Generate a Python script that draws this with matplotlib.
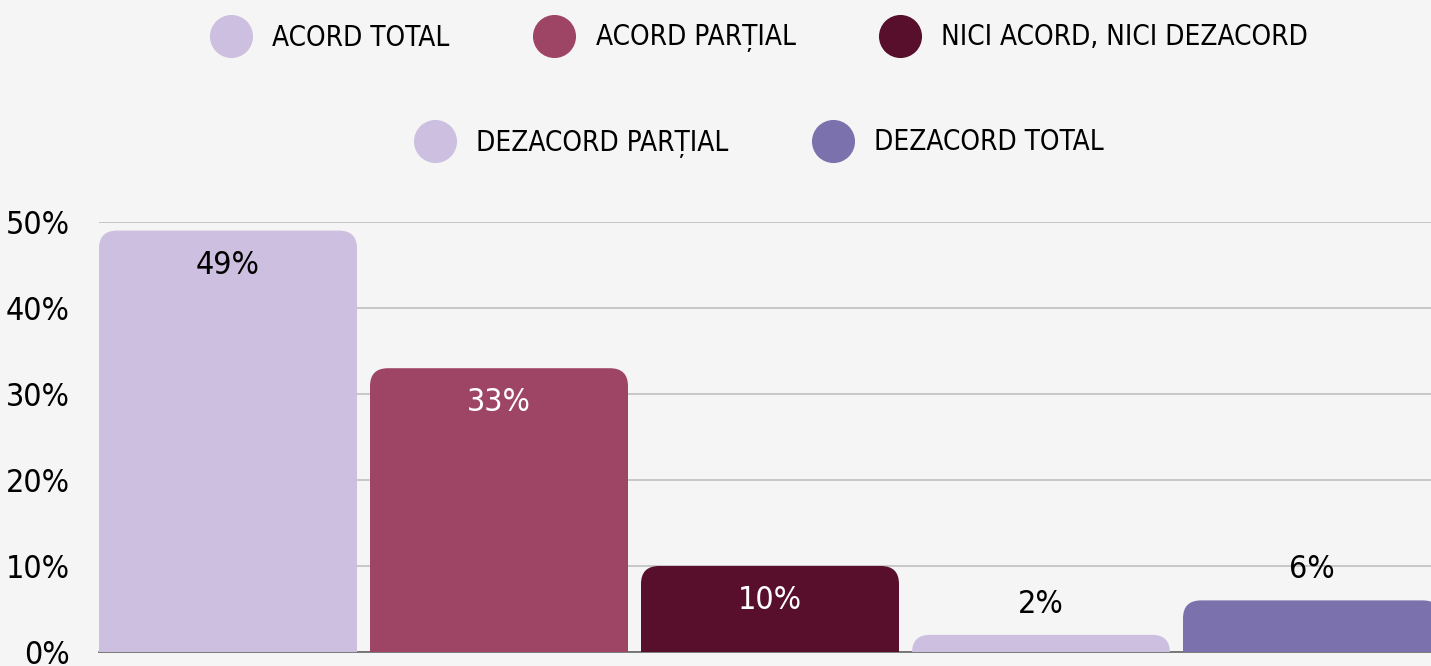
import matplotlib
matplotlib.use("Agg")
import matplotlib.pyplot as plt
from matplotlib.patches import FancyBboxPatch
from matplotlib.lines import Line2D
from matplotlib import colors as mcolors

categories = ["ACORD TOTAL", "ACORD PARȚIAL", "NICI ACORD, NICI DEZACORD",
              "DEZACORD PARȚIAL", "DEZACORD TOTAL"]
values = [49, 33, 10, 2, 6]
bar_colors = ["#cdbfdf", "#9e4566", "#570f2b", "#cdbfdf", "#7b71ad"]
yticks = [0, 10, 20, 30, 40, 50]
ytick_labels = ["0%", "10%", "20%", "30%", "40%", "50%"]

plt.rcParams["font.family"] = ["DejaVu Sans"]
plt.rcParams["font.stretch"] = "condensed"

W, H, DPI = 1431, 666, 100
bg = "#f5f5f5"
fig = plt.figure(figsize=(W / DPI, H / DPI), dpi=DPI, facecolor=bg)

# layout in pixels: one slot per category, bars flush with the axes' left edge
slot_px = 271
bar_px = 258
left_px = 99
half = bar_px / slot_px / 2
x_lo, x_hi = -half, len(values) - 0.5
axes_w_px = (x_hi - x_lo) * slot_px
ax = fig.add_axes([left_px / W, 14 / H, axes_w_px / W, 430 / H], facecolor=bg)

ax.set_xlim(x_lo, x_hi)
ax.set_ylim(0, 50)

px_per_y = 430 / 50
radius_px = 18
rx = radius_px / slot_px
aspect = slot_px / px_per_y

bar_w = bar_px / slot_px
for i, (v, c) in enumerate(zip(values, bar_colors)):
    ext = radius_px / px_per_y + 1
    patch = FancyBboxPatch((i - bar_w / 2, -ext), bar_w, v + ext,
                           boxstyle=f"round,pad=0,rounding_size={rx}",
                           mutation_aspect=aspect, facecolor=c,
                           edgecolor="none", zorder=3)
    ax.add_patch(patch)

    r, g, b = mcolors.to_rgb(c)
    lum = 0.299 * r + 0.587 * g + 0.114 * b
    if v >= 10:
        ax.annotate(f"{v}%", (i, v), xytext=(0, -25), textcoords="offset points",
                    ha="center", va="center", fontsize=23,
                    color="black" if lum > 0.6 else "white", zorder=4)
    else:
        ax.annotate(f"{v}%", (i, v), xytext=(0, 22), textcoords="offset points",
                    ha="center", va="center", fontsize=23, color="black", zorder=4)

ax.set_yticks(yticks)
ax.set_yticklabels(ytick_labels, fontsize=23)
ax.tick_params(axis="y", length=0, pad=21)
ax.set_xticks([])
ax.yaxis.grid(True, color="#c4c4c4", linewidth=1.3, zorder=0)
ax.set_axisbelow(True)
for s in ["top", "right", "left"]:
    ax.spines[s].set_visible(False)
ax.spines["bottom"].set_color("#666666")
ax.spines["bottom"].set_linewidth(1.2)

def handle(c):
    return Line2D([], [], linestyle="none", marker="o", markersize=31,
                  markerfacecolor=c, markeredgecolor="none")

leg_kw = dict(frameon=False, fontsize=20, handlelength=1.5, handletextpad=0.75,
              columnspacing=3.0, borderpad=0, borderaxespad=0, loc="center")
leg1 = fig.legend([handle(c) for c in bar_colors[:3]], categories[:3], ncol=3,
                  bbox_to_anchor=(759 / W, 1 - 38 / H), **leg_kw)
leg2 = fig.legend([handle(c) for c in bar_colors[3:]], categories[3:], ncol=2,
                  bbox_to_anchor=(759 / W, 1 - 143 / H), **leg_kw)

fig.savefig("out.png", dpi=DPI, facecolor=bg)
